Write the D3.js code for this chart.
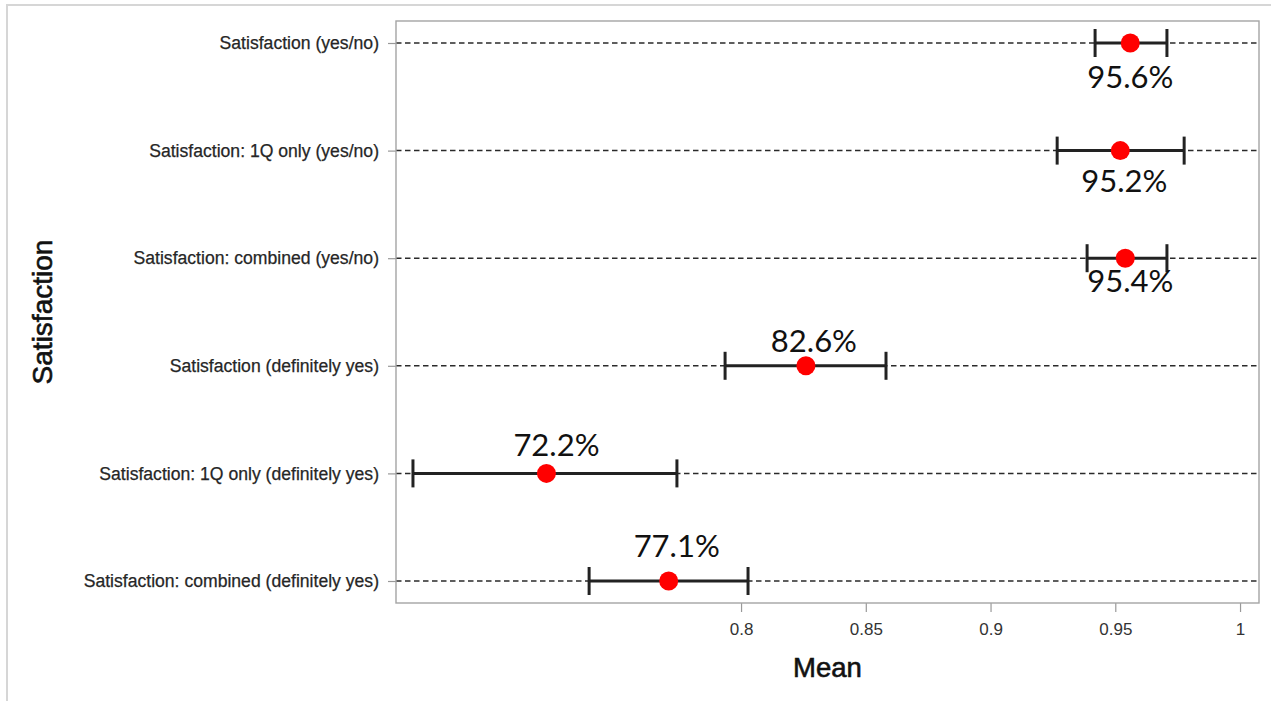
<!DOCTYPE html>
<html>
<head>
<meta charset="utf-8">
<script src="https://cdn.jsdelivr.net/npm/d3@7"></script>
<style>
  html, body { margin: 0; padding: 0; background: #ffffff; }
  svg { display: block; }
</style>
</head>
<body>
<svg id="chart" width="1271" height="701"></svg>
<script>
// Satisfaction measures, top to bottom
const categories = [
  "Satisfaction (yes/no)",
  "Satisfaction: 1Q only (yes/no)",
  "Satisfaction: combined (yes/no)",
  "Satisfaction (definitely yes)",
  "Satisfaction: 1Q only (definitely yes)",
  "Satisfaction: combined (definitely yes)"
];
const means = [0.956, 0.952, 0.954, 0.826, 0.722, 0.771];
const lowerCI = [0.9419, 0.9267, 0.9387, 0.7936, 0.6685, 0.7391];
const upperCI = [0.9707, 0.9776, 0.9707, 0.8581, 0.7743, 0.8028];
const valueLabels = ["95.6%", "95.2%", "95.4%", "82.6%", "72.2%", "77.1%"];
const xTicks = [0.8, 0.85, 0.9, 0.95, 1];
const xTickLabels = ["0.8", "0.85", "0.9", "0.95", "1"];
const xDomain = [0.6617, 1.0076];

const svg = d3.select("#chart");

// Plot frame
const plot = { left: 396, right: 1259, top: 21, bottom: 603 };

const x = d3.scaleLinear().domain(xDomain).range([plot.left, plot.right]);
const y = d3.scalePoint().domain(categories).range([plot.top, plot.bottom]).padding(0.2045);

// Light outer border around the figure
svg.append("rect")
  .attr("x", 7).attr("y", 5)
  .attr("width", 1300).attr("height", 720)
  .attr("fill", "none")
  .attr("stroke", "#d6d6d6")
  .attr("stroke-width", 2);

// Dashed reference lines per category
svg.append("g").selectAll("line")
  .data(categories)
  .join("line")
  .attr("x1", plot.left).attr("x2", plot.right)
  .attr("y1", d => y(d)).attr("y2", d => y(d))
  .attr("stroke", "#2a2a2a")
  .attr("stroke-width", 1.5)
  .attr("stroke-dasharray", "5.5,3.5");

// Y axis (category labels)
const yAxis = svg.append("g")
  .attr("transform", `translate(${plot.left},0)`)
  .call(d3.axisLeft(y).tickSize(8).tickPadding(9));
yAxis.select(".domain").remove();
yAxis.selectAll(".tick line").attr("stroke", "#999").attr("stroke-width", 1.2);
yAxis.selectAll(".tick text")
  .attr("fill", "#262626")
  .attr("stroke", "#262626")
  .attr("stroke-width", 0.25)
  .style("font-family", "'Liberation Sans', Arial, sans-serif")
  .style("font-size", "17.6px");

// X axis
const xAxis = svg.append("g")
  .attr("transform", `translate(0,${plot.bottom})`)
  .call(d3.axisBottom(x)
    .tickValues(xTicks)
    .tickFormat((d, i) => xTickLabels[i])
    .tickSize(9)
    .tickPadding(11));
xAxis.select(".domain").remove();
xAxis.selectAll(".tick line").attr("stroke", "#999").attr("stroke-width", 1.2);
xAxis.selectAll(".tick text")
  .attr("fill", "#333")
  .style("font-family", "'Liberation Sans', Arial, sans-serif")
  .style("font-size", "17px");

// Plot border
svg.append("rect")
  .attr("x", plot.left).attr("y", plot.top)
  .attr("width", plot.right - plot.left)
  .attr("height", plot.bottom - plot.top)
  .attr("fill", "none")
  .attr("stroke", "#a4a4a4")
  .attr("stroke-width", 1.4);

// Confidence intervals with caps
const capHalf = 14;
const rows = categories.map((c, i) => ({
  cat: c, mean: means[i], lo: lowerCI[i], hi: upperCI[i], label: valueLabels[i], i
}));

const bars = svg.append("g");
bars.selectAll("line.ci")
  .data(rows)
  .join("line")
  .attr("class", "ci")
  .attr("x1", d => x(d.lo)).attr("x2", d => x(d.hi))
  .attr("y1", d => y(d.cat)).attr("y2", d => y(d.cat))
  .attr("stroke", "#222").attr("stroke-width", 3);
bars.selectAll("line.capL")
  .data(rows)
  .join("line")
  .attr("class", "capL")
  .attr("x1", d => x(d.lo)).attr("x2", d => x(d.lo))
  .attr("y1", d => y(d.cat) - capHalf).attr("y2", d => y(d.cat) + capHalf)
  .attr("stroke", "#222").attr("stroke-width", 3);
bars.selectAll("line.capR")
  .data(rows)
  .join("line")
  .attr("class", "capR")
  .attr("x1", d => x(d.hi)).attr("x2", d => x(d.hi))
  .attr("y1", d => y(d.cat) - capHalf).attr("y2", d => y(d.cat) + capHalf)
  .attr("stroke", "#222").attr("stroke-width", 3);

// Mean markers
svg.append("g").selectAll("circle")
  .data(rows)
  .join("circle")
  .attr("cx", d => x(d.mean))
  .attr("cy", d => y(d.cat))
  .attr("r", 9.5)
  .attr("fill", "#ff0000");

// Value annotations: below the marker for the top three rows, above for the rest
const labelNudge = [
  { dx: 0, dy: 45 }, { dx: 4, dy: 41 }, { dx: 5, dy: 34 },
  { dx: 8, dy: -14 }, { dx: 10, dy: -17 }, { dx: 8, dy: -24 }
];
svg.append("g").selectAll("text")
  .data(rows)
  .join("text")
  .attr("x", d => x(d.mean) + labelNudge[d.i].dx)
  .attr("y", d => y(d.cat) + labelNudge[d.i].dy)
  .attr("text-anchor", "middle")
  .attr("fill", "#111")
  .style("font-family", "Lato, 'Open Sans', sans-serif")
  .style("font-size", "31px")
  .text(d => d.label);

// Axis titles
svg.append("text")
  .attr("x", (plot.left + plot.right) / 2)
  .attr("y", 677)
  .attr("text-anchor", "middle")
  .attr("fill", "#111")
  .attr("stroke", "#111")
  .attr("stroke-width", 0.6)
  .style("font-family", "'Liberation Sans', Arial, sans-serif")
  .style("font-size", "27.5px")
  .text("Mean");

svg.append("text")
  .attr("transform", `translate(52,${(plot.top + plot.bottom) / 2}) rotate(-90)`)
  .attr("text-anchor", "middle")
  .attr("fill", "#111")
  .attr("stroke", "#111")
  .attr("stroke-width", 0.6)
  .style("font-family", "'Liberation Sans', Arial, sans-serif")
  .style("font-size", "28px")
  .text("Satisfaction");
</script>
</body>
</html>
